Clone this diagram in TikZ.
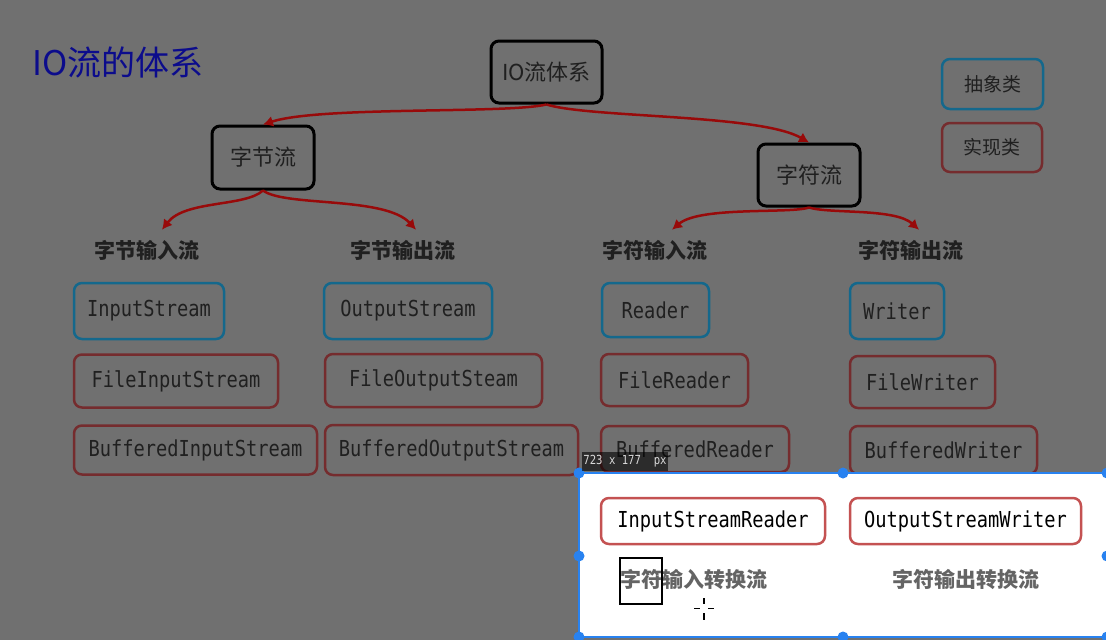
\documentclass[tikz,border=0pt]{standalone}
\usepackage{fontspec}
\newfontfamily\cjk{Noto Sans CJK SC}
\newfontfamily\codefont[FakeStretch=0.85]{DejaVu Sans Mono}
\usetikzlibrary{arrows.meta}
\definecolor{bggray}{RGB}{112,112,112}
\definecolor{boxblue}{RGB}{20,104,140}
\definecolor{boxred}{RGB}{117,44,46}
\definecolor{arrowred}{RGB}{152,10,10}
\definecolor{inkdark}{RGB}{32,32,32}
\definecolor{titleblue}{RGB}{12,12,140}
\definecolor{liveRed}{RGB}{196,82,82}
\definecolor{selblue}{RGB}{40,130,240}
\definecolor{livegray}{RGB}{100,100,100}
\tikzset{inner sep=0pt}

\begin{document}
\begin{tikzpicture}[x=1pt,y=-1pt,
            group/.style 2 args={draw=black,line width=3pt,rounded corners=8pt,
                minimum width=#1pt,minimum height=#2pt,text=inkdark,
                font=\cjk\fontsize{22}{24}\selectfont},
            absbox/.style 2 args={draw=boxblue,line width=2.5pt,rounded corners=8pt,
                minimum width=#1pt,minimum height=#2pt,text=inkdark,
                font=\codefont\fontsize{22}{24}\selectfont},
            implbox/.style 2 args={absbox={#1}{#2},draw=boxred},
            livebox/.style 2 args={absbox={#1}{#2},draw=liveRed,text=black},
            heading/.style={text=inkdark,font=\cjk\bfseries\fontsize{21}{24}\selectfont},
            flow/.style={draw=arrowred,line width=2.5pt,-{Latex[width=11pt,length=10pt]}}
            ]
            \useasboundingbox (0,0) rectangle (1106,640);
            \fill[bggray] (0,0) rectangle (1106,640);

            \node[text=titleblue,font=\cjk\fontsize{34}{36}\selectfont] (title) at (118,62) {IO流的体系};

            \node[group={111}{62}] (io) at (546.5,72) {IO流体系};
            \node[group={102}{63}] (byte) at (263,157.5) {字节流};
            \node[group={102}{62}] (char) at (809,175) {字符流};

            \node[absbox={101}{50},font=\cjk\fontsize{19}{22}\selectfont] (abs) at (992.5,84) {抽象类};
            \node[implbox={100}{49},font=\cjk\fontsize{19}{22}\selectfont] (impl) at (992,147.5) {实现类};

            \node[heading] (bin) at (147,250) {字节输入流};
            \node[heading] (bout) at (403,250) {字节输出流};
            \node[heading] (cin) at (655,250) {字符输入流};
            \node[heading] (cout) at (911,250) {字符输出流};

            \draw[flow] (io.south) .. controls (505,114) and (320,106) .. (byte.north);
            \draw[flow] (io.south) .. controls (590,118) and (760,114) .. (char.north);
            \draw[flow] (byte.south) .. controls (245,207) and (185,200) .. ([shift={(15,-10)}]bin.north);
            \draw[flow] (byte.south) .. controls (285,207) and (385,196) .. ([shift={(13,-10)}]bout.north);
            \draw[flow] (char.south) .. controls (790,214) and (700,206) .. ([shift={(17,-10)}]cin.north);
            \draw[flow] (char.south) .. controls (830,214) and (895,208) .. ([shift={(8,-10)}]cout.north);

            \node[absbox={150}{56}] (is) at (149,311) {InputStream};
            \node[implbox={204}{53}] (fis) at (176,381) {FileInputStream};
            \node[implbox={243}{49}] (bis) at (195.5,450) {BufferedInputStream};

            \node[absbox={168}{56}] (os) at (408,311) {OutputStream};
            \node[implbox={217}{53}] (fos) at (433.5,380.5) {FileOutputSteam};
            \node[implbox={253}{50}] (bos) at (451.5,450) {BufferedOutputStream};

            \node[absbox={107}{54}] (rd) at (655.5,310) {Reader};
            \node[implbox={147}{52}] (frd) at (674.5,380) {FileReader};
            \node[implbox={188}{46}] (brd) at (695,449) {BufferedReader};

            \node[absbox={94}{56}] (wr) at (897,311) {Writer};
            \node[implbox={145}{52}] (fwr) at (922.5,382) {FileWriter};
            \node[implbox={187}{48}] (bwr) at (943.5,450) {BufferedWriter};

            \draw[selblue,line width=2pt,fill=white] (579,473) rectangle (1107,637);
            \foreach \hx/\hy in {579/473,843/473,1107/473,579/556,1107/556,579/637,843/637,1107/637}
                \fill[selblue] (\hx,\hy) circle (5.5);
            \node[fill=black,fill opacity=0.6,text opacity=1,text=white!85!black,
                minimum width=86pt,minimum height=19pt,
                font=\codefont\fontsize{12.5}{14}\selectfont] (size) at (625,461.5) {723 x 177\ \ px};

            \node[livebox={224}{46}] (isr) at (713,521) {InputStreamReader};
            \node[livebox={231}{46}] (osw) at (965.5,521) {OutputStreamWriter};
            \node[heading,text=livegray] (isrname) at (694,580) {字符输入转换流};
            \node[heading,text=livegray] (oswname) at (966,580) {字符输出转换流};

            \draw[black,line width=1.6pt] (620,558) rectangle (662,604);
            \draw[black,line width=1.5pt] (704,598) -- (704,604) (704,613) -- (704,620)
                (694,608.5) -- (700,608.5) (708,608.5) -- (714,608.5);
        \end{tikzpicture}
\end{document}
